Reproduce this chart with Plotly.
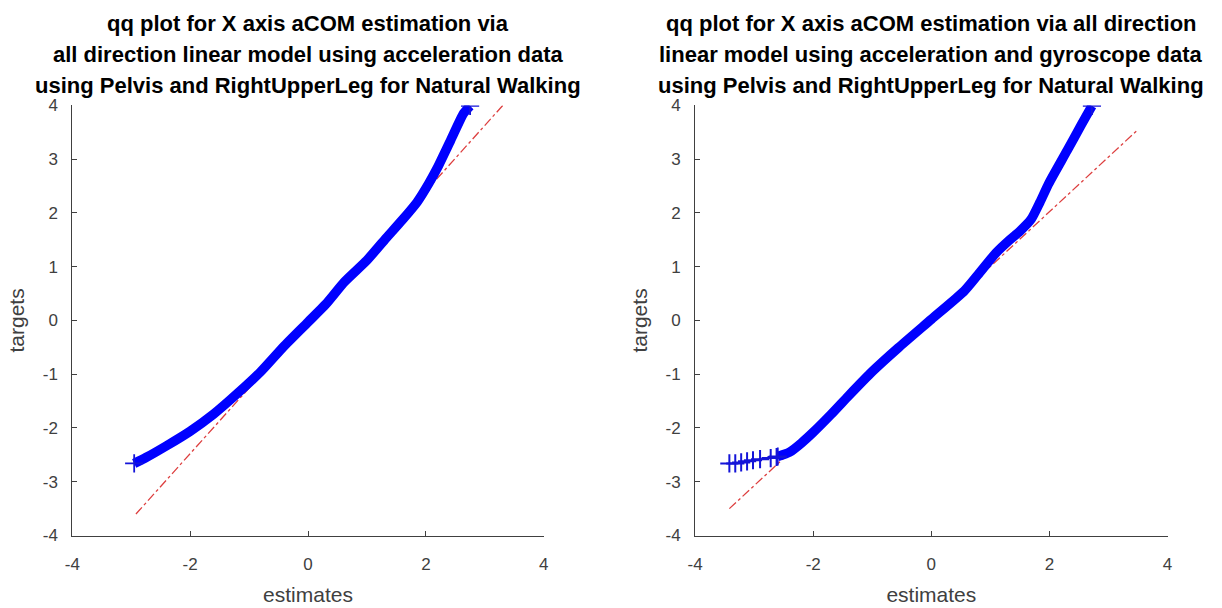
import plotly.graph_objects as go

# ---------------- data ----------------
# Left panel: acceleration data only
left_est = [-2.95, -2.75, -2.4, -2.0, -1.6, -1.2, -0.8, -0.4, 0.0, 0.3, 0.62, 1.0,
            1.3, 1.6, 1.85, 2.05, 2.2, 2.42, 2.64, 2.75]
left_tgt = [-2.66, -2.55, -2.33, -2.06, -1.74, -1.36, -0.95, -0.47, -0.03, 0.3, 0.72, 1.12,
            1.5, 1.87, 2.2, 2.55, 2.85, 3.35, 3.85, 3.99]
left_ref_x = [-2.92, 3.33]
left_ref_y = [-3.6, 4.03]

# Right panel: acceleration + gyroscope data
right_tail_est = [-3.42, -3.32, -3.22, -3.12, -3.02, -2.9, -2.72, -2.62]
right_tail_tgt = [-2.66, -2.66, -2.64, -2.62, -2.6, -2.58, -2.56, -2.54]
right_est = [-2.6, -2.4, -2.2, -2.0, -1.7, -1.4, -1.0, -0.56, 0.0, 0.56, 0.79, 1.09,
             1.33, 1.5, 1.69, 1.84, 1.99, 2.3, 2.54, 2.72]
right_tgt = [-2.53, -2.45, -2.28, -2.08, -1.75, -1.4, -0.95, -0.51, 0.02, 0.55, 0.85, 1.25,
             1.5, 1.66, 1.88, 2.2, 2.55, 3.16, 3.64, 3.99]
right_ref_x = [-3.42, 3.5]
right_ref_y = [-3.5, 3.55]

x_ticks = [-4, -2, 0, 2, 4]
x_tick_text = ["-4", "-2", "0", "2", "4"]
y_ticks = [-4, -3, -2, -1, 0, 1, 2, 3, 4]
y_tick_text = ["-4", "-3", "-2", "-1", "0", "1", "2", "3", "4"]

titles = [
    ["qq plot for X axis aCOM estimation via",
     "all direction linear model using acceleration data",
     "using Pelvis and RightUpperLeg for Natural Walking"],
    ["qq plot for X axis aCOM estimation via all direction",
     "linear model using acceleration and gyroscope data",
     "using Pelvis and RightUpperLeg for Natural Walking"],
]

# ---------------- figure ----------------
W, H = 1222, 608
BLUE = "#0000ff"
MARK = "#1414d8"
RED = "#dd4040"
AXC = "#404040"
FONT = "Liberation Sans, Arial, Helvetica, sans-serif"

fig = go.Figure()

def add_panel(xa, ya, ref_x, ref_y, est, tgt, tail_est=None, tail_tgt=None):
    fig.add_trace(go.Scatter(x=ref_x, y=ref_y, mode="lines", xaxis=xa, yaxis=ya,
                             line=dict(color=RED, width=1.3, dash="dashdot"),
                             showlegend=False, hoverinfo="skip"))
    fig.add_trace(go.Scatter(x=est, y=tgt, mode="lines", xaxis=xa, yaxis=ya,
                             line=dict(color=BLUE, width=9.5, shape="spline", smoothing=0.6),
                             showlegend=False))
    fig.add_trace(go.Scatter(x=[est[0], est[-1]], y=[tgt[0], tgt[-1]], mode="markers",
                             xaxis=xa, yaxis=ya,
                             marker=dict(symbol="cross-thin", size=13,
                                         line=dict(color=MARK, width=1.8)),
                             showlegend=False))
    if tail_est is not None:
        fig.add_trace(go.Scatter(x=tail_est, y=tail_tgt, mode="lines+markers",
                                 xaxis=xa, yaxis=ya,
                                 line=dict(color=MARK, width=1.5),
                                 marker=dict(symbol="cross-thin", size=13,
                                             line=dict(color=MARK, width=2)),
                                 showlegend=False))

add_panel("x", "y", left_ref_x, left_ref_y, left_est, left_tgt)
add_panel("x2", "y2", right_ref_x, right_ref_y, right_est, right_tgt,
          right_tail_est, right_tail_tgt)

ydom = [1 - 543.5 / H, 1 - 99.5 / H]
xdom1 = [65 / W, 541.5 / W]
xdom2 = [694.5 / W, 1172 / W]

def xaxis(dom, anchor):
    return dict(domain=dom, anchor=anchor, range=[-4, 4],
                tickvals=x_ticks, ticktext=x_tick_text,
                showline=True, linecolor=AXC, linewidth=1, mirror=False,
                ticks="inside", ticklen=5, tickcolor=AXC, showgrid=False,
                zeroline=False, tickfont=dict(family=FONT, size=17, color=AXC),
                ticklabelstandoff=13,
                title=dict(text="estimates", font=dict(family=FONT, size=21, color=AXC),
                           standoff=14))

def yaxis(anchor):
    return dict(domain=ydom, anchor=anchor, range=[-4, 4],
                tickvals=y_ticks, ticktext=y_tick_text,
                showline=True, linecolor=AXC, linewidth=1, mirror=False,
                ticks="inside", ticklen=5, tickcolor=AXC, showgrid=False,
                zeroline=False, tickfont=dict(family=FONT, size=17, color=AXC),
                ticklabelstandoff=10,
                title=dict(text="targets", font=dict(family=FONT, size=21, color=AXC),
                           standoff=12))

annotations = []
line_y = [15, 47, 79]
for dom, lines in zip([xdom1, xdom2], titles):
    cx = (dom[0] + dom[1]) / 2
    for txt, yy in zip(lines, line_y):
        annotations.append(dict(text="<b>" + txt + "</b>", xref="paper", yref="paper",
                                x=cx, y=1 - yy / H, xanchor="center", yanchor="middle",
                                showarrow=False,
                                font=dict(family=FONT, size=22, color="#000000")))

fig.update_layout(
    width=W, height=H, margin=dict(l=0, r=0, t=0, b=0),
    paper_bgcolor="white", plot_bgcolor="white",
    xaxis=xaxis(xdom1, "y"), yaxis=yaxis("x"),
    xaxis2=xaxis(xdom2, "y2"), yaxis2=yaxis("x2"),
    annotations=annotations, showlegend=False,
)

fig.write_html("out.html")
